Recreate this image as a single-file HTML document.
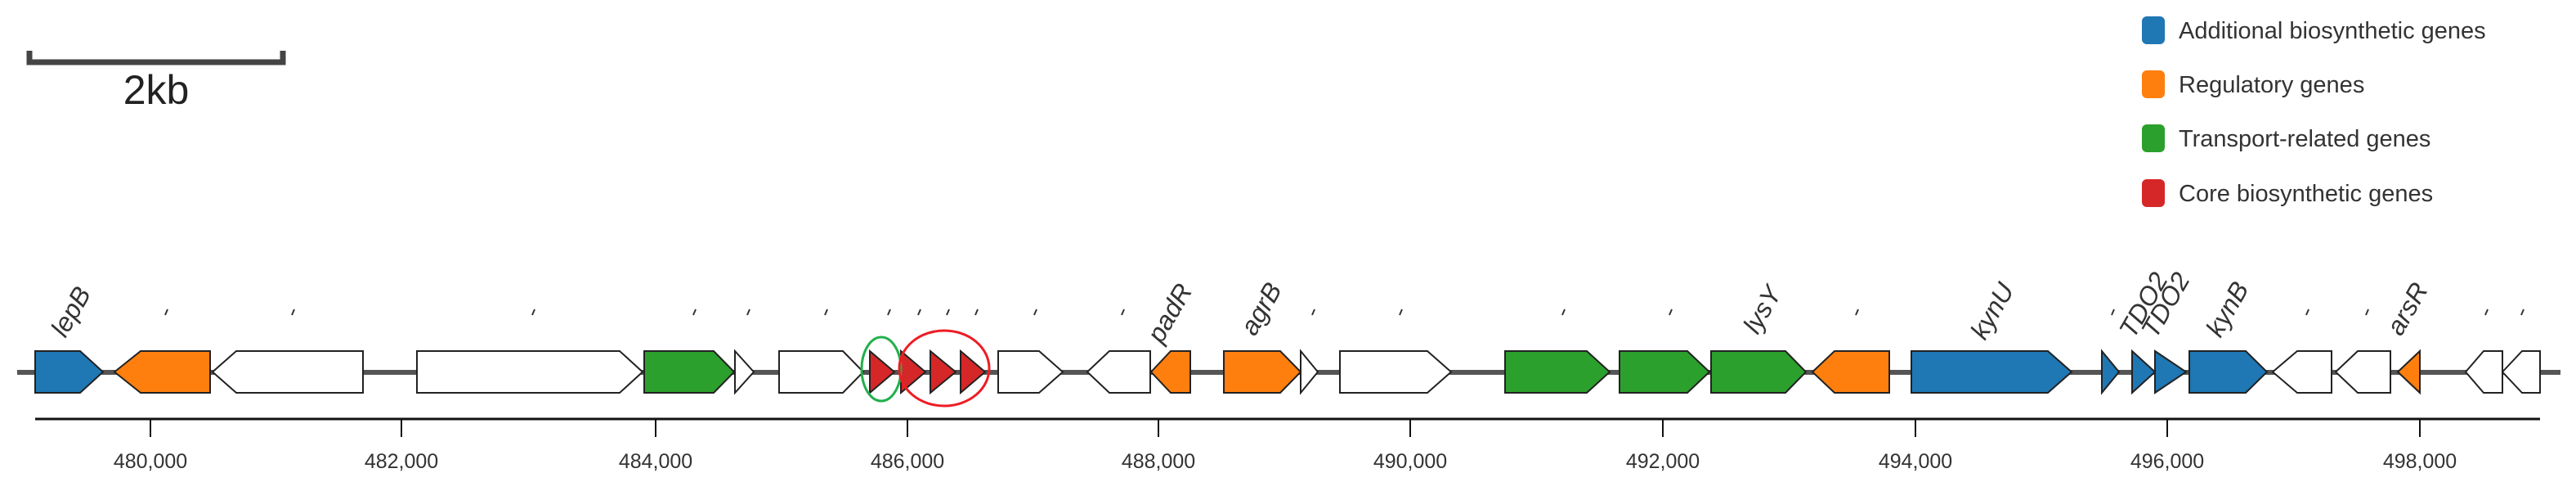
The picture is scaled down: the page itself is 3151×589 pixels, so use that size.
<!DOCTYPE html>
<html><head><meta charset="utf-8"><style>
html,body{margin:0;padding:0;background:#fff;}
svg{display:block;}
text{font-family:"Liberation Sans",Arial,sans-serif;}
</style></head><body>
<svg width="3151" height="589" viewBox="0 0 3151 589" xmlns="http://www.w3.org/2000/svg">
<path d="M36 62 V76 H346 V62" fill="none" stroke="#444" stroke-width="7"/>
<text x="191" y="127" font-size="50" text-anchor="middle" fill="#222">2kb</text>
<g font-size="29" fill="#333">
<rect x="2620" y="20" width="28" height="34" rx="6" fill="#1f77b4"/><text x="2665" y="47">Additional biosynthetic genes</text>
<rect x="2620" y="86" width="28" height="34" rx="6" fill="#ff7f0e"/><text x="2665" y="113">Regulatory genes</text>
<rect x="2620" y="152" width="28" height="34" rx="6" fill="#2ca02c"/><text x="2665" y="179">Transport-related genes</text>
<rect x="2620" y="219" width="28" height="34" rx="6" fill="#d62728"/><text x="2665" y="246">Core biosynthetic genes</text>
</g>
<line x1="21" y1="455" x2="3132" y2="455" stroke="#555" stroke-width="6"/>
<g stroke="#222" stroke-width="2" stroke-linejoin="miter">
<polygon fill="#1f77b4" points="43,429 98,429 126,454.5 98,480 43,480"/>
<polygon fill="#ff7f0e" points="140,454.5 172,429 257,429 257,480 172,480"/>
<polygon fill="#fff" points="260,454.5 289,429 444,429 444,480 289,480"/>
<polygon fill="#fff" points="510,429 758,429 786,454.5 758,480 510,480"/>
<polygon fill="#2ca02c" points="788,429 873,429 898,454.5 873,480 788,480"/>
<polygon fill="#fff" points="899,429 922,454.5 899,480"/>
<polygon fill="#fff" points="953,429 1031,429 1056,454.5 1031,480 953,480"/>
<polygon fill="#d62728" points="1064,429 1094,454.5 1064,480"/>
<polygon fill="#d62728" points="1102,429 1132,454.5 1102,480"/>
<polygon fill="#d62728" points="1138,429 1169,454.5 1138,480"/>
<polygon fill="#d62728" points="1175,429 1205,454.5 1175,480"/>
<polygon fill="#fff" points="1221,429 1271,429 1300,454.5 1271,480 1221,480"/>
<polygon fill="#fff" points="1330,454.5 1357,429 1407,429 1407,480 1357,480"/>
<polygon fill="#ff7f0e" points="1408,454.5 1432,429 1456,429 1456,480 1432,480"/>
<polygon fill="#ff7f0e" points="1497,429 1566,429 1591,454.5 1566,480 1497,480"/>
<polygon fill="#fff" points="1591,429 1612,454.5 1591,480"/>
<polygon fill="#fff" points="1639,429 1746,429 1775,454.5 1746,480 1639,480"/>
<polygon fill="#2ca02c" points="1841,429 1941,429 1969,454.5 1941,480 1841,480"/>
<polygon fill="#2ca02c" points="1981,429 2064,429 2091,454.5 2064,480 1981,480"/>
<polygon fill="#2ca02c" points="2093,429 2184,429 2209,454.5 2184,480 2093,480"/>
<polygon fill="#ff7f0e" points="2217,454.5 2244,429 2311,429 2311,480 2244,480"/>
<polygon fill="#1f77b4" points="2338,429 2505,429 2534,454.5 2505,480 2338,480"/>
<polygon fill="#1f77b4" points="2571,429 2592,454.5 2571,480"/>
<polygon fill="#1f77b4" points="2608,429 2636,454.5 2608,480"/>
<polygon fill="#1f77b4" points="2636,429 2674,454.5 2636,480"/>
<polygon fill="#1f77b4" points="2678,429 2747,429 2773,454.5 2747,480 2678,480"/>
<polygon fill="#fff" points="2780,454.5 2810,429 2852,429 2852,480 2810,480"/>
<polygon fill="#fff" points="2857,454.5 2884,429 2924,429 2924,480 2884,480"/>
<polygon fill="#ff7f0e" points="2933,454.5 2960,429 2960,480"/>
<polygon fill="#fff" points="3016,454.5 3038,429 3061,429 3061,480 3038,480"/>
<polygon fill="#fff" points="3061,454.5 3085,429 3107,429 3107,480 3085,480"/>
</g>
<ellipse cx="1078" cy="451" rx="24" ry="39" fill="none" stroke="#22b04b" stroke-width="3"/>
<ellipse cx="1155" cy="450" rx="55" ry="46" fill="none" stroke="#ee1c24" stroke-width="3"/>
<g stroke="#333" stroke-width="2">
<line x1="202" y1="385" x2="205" y2="378"/><line x1="357" y1="385" x2="360" y2="378"/>
<line x1="651" y1="385" x2="654" y2="378"/><line x1="848" y1="385" x2="851" y2="378"/>
<line x1="914" y1="385" x2="917" y2="378"/><line x1="1009" y1="385" x2="1012" y2="378"/>
<line x1="1086" y1="385" x2="1089" y2="378"/><line x1="1123" y1="385" x2="1126" y2="378"/>
<line x1="1158" y1="385" x2="1161" y2="378"/><line x1="1193" y1="385" x2="1196" y2="378"/>
<line x1="1265" y1="385" x2="1268" y2="378"/><line x1="1372" y1="385" x2="1375" y2="378"/>
<line x1="1605" y1="385" x2="1608" y2="378"/><line x1="1712" y1="385" x2="1715" y2="378"/>
<line x1="1911" y1="385" x2="1914" y2="378"/><line x1="2042" y1="385" x2="2045" y2="378"/>
<line x1="2270" y1="385" x2="2273" y2="378"/><line x1="2583" y1="385" x2="2586" y2="378"/>
<line x1="2821" y1="385" x2="2824" y2="378"/><line x1="2894" y1="385" x2="2897" y2="378"/>
<line x1="3040" y1="385" x2="3043" y2="378"/><line x1="3084" y1="385" x2="3087" y2="378"/>
</g>
<g font-size="32" font-style="italic" fill="#333">
<text transform="translate(80,414) rotate(-60)">lepB</text>
<text transform="translate(1421,421) rotate(-60)">padR</text>
<text transform="translate(1535,412) rotate(-60)">agrB</text>
<text transform="translate(2150,410) rotate(-60)">lysY</text>
<text transform="translate(2428,417) rotate(-60)">kynU</text>
<text transform="translate(2610,415) rotate(-60)">TDO2</text>
<text transform="translate(2637,415) rotate(-60)">TDO2</text>
<text transform="translate(2716,414) rotate(-60)">kynB</text>
<text transform="translate(2937,412) rotate(-60)">arsR</text>
</g>
<line x1="43" y1="512" x2="3107" y2="512" stroke="#111" stroke-width="3"/>
<g stroke="#111" stroke-width="2">
<line x1="184" y1="512" x2="184" y2="534"/><line x1="491" y1="512" x2="491" y2="534"/>
<line x1="802" y1="512" x2="802" y2="534"/><line x1="1110" y1="512" x2="1110" y2="534"/>
<line x1="1417" y1="512" x2="1417" y2="534"/><line x1="1725" y1="512" x2="1725" y2="534"/>
<line x1="2034" y1="512" x2="2034" y2="534"/><line x1="2343" y1="512" x2="2343" y2="534"/>
<line x1="2651" y1="512" x2="2651" y2="534"/><line x1="2960" y1="512" x2="2960" y2="534"/>
</g>
<g font-size="25" fill="#333" text-anchor="middle">
<text x="184" y="572">480,000</text><text x="491" y="572">482,000</text>
<text x="802" y="572">484,000</text><text x="1110" y="572">486,000</text>
<text x="1417" y="572">488,000</text><text x="1725" y="572">490,000</text>
<text x="2034" y="572">492,000</text><text x="2343" y="572">494,000</text>
<text x="2651" y="572">496,000</text><text x="2960" y="572">498,000</text>
</g>
</svg>
</body></html>
